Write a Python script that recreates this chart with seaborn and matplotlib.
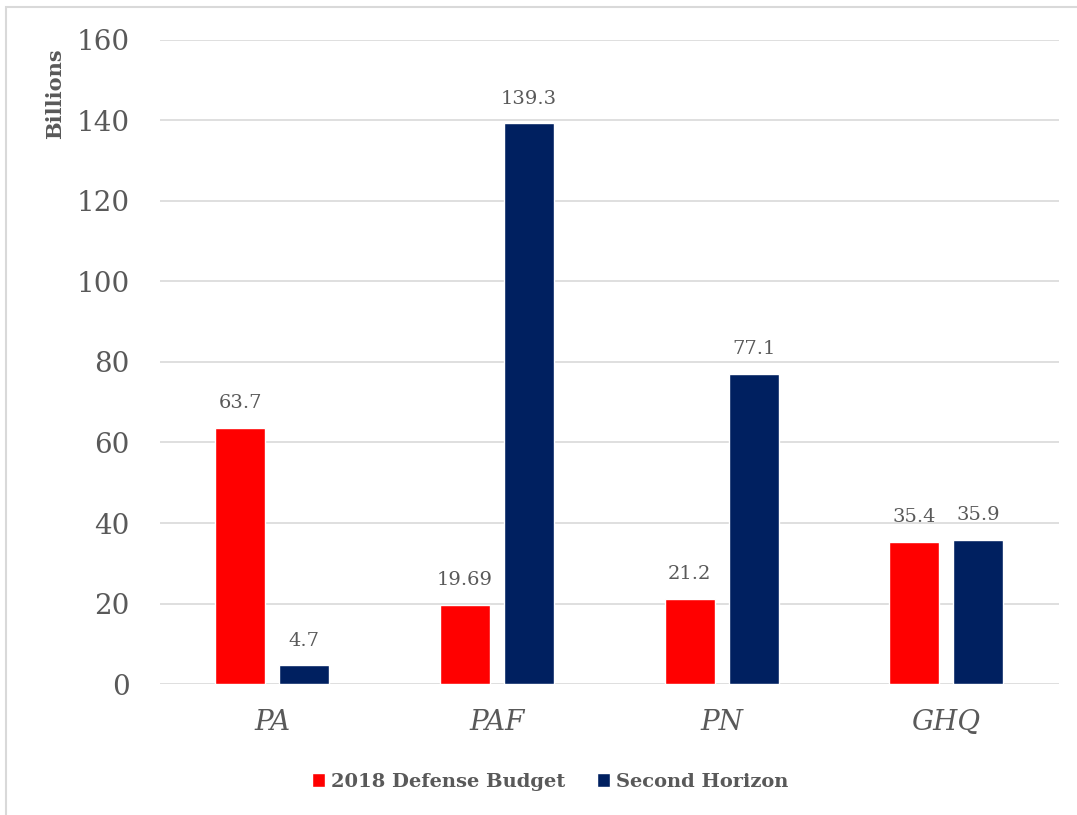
import pandas as pd
import seaborn as sns
import matplotlib.pyplot as plt
from matplotlib.patches import Rectangle

branches = ["PA", "PAF", "PN", "GHQ"]
budget_2018 = [63.7, 19.69, 21.2, 35.4]
second_horizon = [4.7, 139.3, 77.1, 35.9]
budget_labels = ["63.7", "19.69", "21.2", "35.4"]
horizon_labels = ["4.7", "139.3", "77.1", "35.9"]
series = ["2018 Defense Budget", "Second Horizon"]

df = pd.DataFrame({
    "branch": branches * 2,
    "value": budget_2018 + second_horizon,
    "series": [series[0]] * 4 + [series[1]] * 4,
})

sns.set_style("white")
plt.rcParams["font.family"] = ["DejaVu Serif"]
txt = "#595959"

fig = plt.figure(figsize=(10.77, 8.15), dpi=100)
ax = fig.add_axes([0.1486, 0.1607, 0.8344, 0.7903])

sns.barplot(data=df, x="branch", y="value", hue="series",
            palette=["#FF0000", "#002060"], width=0.57, gap=0.22,
            saturation=1, ax=ax, zorder=3)

for cont, labs in zip(ax.containers, [budget_labels, horizon_labels]):
    ax.bar_label(cont, labels=labs, padding=11, fontsize=14, color=txt)

ax.set_ylim(0, 160)
ax.set_yticks(range(0, 161, 20))
ax.yaxis.grid(True, color="#D9D9D9", lw=1.2, zorder=0)
for s in ax.spines.values():
    s.set_visible(False)
ax.tick_params(axis="y", labelsize=20, colors=txt, pad=22, length=0)
ax.tick_params(axis="x", labelsize=20, colors=txt, pad=18, length=0)
for t in ax.get_xticklabels():
    t.set_fontstyle("italic")
ax.set_xlabel("")
ax.set_ylabel("")

fig.text(0.051, 0.885, "Billions", rotation=90, ha="center", va="center",
         fontsize=15, fontweight="bold", color=txt)

leg = ax.legend(loc="center", bbox_to_anchor=(0.434, -0.152), ncol=2, frameon=False,
                handlelength=0.7, handleheight=0.7, handletextpad=0.3,
                columnspacing=1.6, prop={"size": 14, "weight": "bold"})
for t in leg.get_texts():
    t.set_color(txt)

fig.patches.append(Rectangle((6 / 1077, -0.1), 1.2, 1 - 7 / 815 + 0.1,
                             transform=fig.transFigure, fill=False,
                             edgecolor="#D9D9D9", lw=1.5))

fig.savefig("out.png", dpi=100)
